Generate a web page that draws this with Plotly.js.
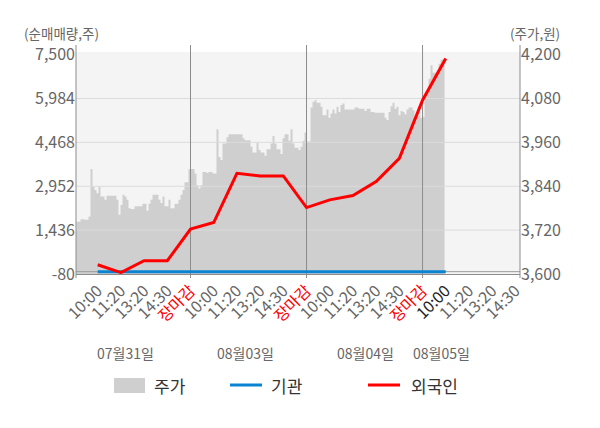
<!DOCTYPE html>
<html>
<head>
<meta charset="utf-8">
<script src="https://cdn.plot.ly/plotly-3.0.1.min.js"></script>
<style>
  html, body { margin: 0; padding: 0; background: #ffffff; }
  #chart { width: 600px; height: 428px; }
</style>
</head>
<body>
<div id="chart"></div>
<script>
// ---- data ----
const xTickLabels = ['10:00','11:20','13:20','14:30','장마감',
                     '10:00','11:20','13:20','14:30','장마감',
                     '10:00','11:20','13:20','14:30','장마감',
                     '10:00','11:20','13:20','14:30'];
const dateLabels = ['07월31일','08월03일','08월04일','08월05일'];

// 외국인 / 기관 net buying (shares) at the tick slots 1..16
const foreignNet = [240, -30, 378, 378, 1471, 1698, 3400, 3307, 3307, 2215, 2480, 2629, 3111, 3917, 5926, 7363];
const instNet    = [0, 0, 0, 0, 0, 0, 0, 0, 0, 0, 0, 0, 0, 0, 0, 0];

// 주가 (won), intraday samples per day
const priceDay1 = [3716,3743,3743,3750,3750,3748,3748,3757,3887,3839,
                   3830,3821,3839,3812,3812,3803,3814,3814,3814,3814,
                   3814,3803,3762,3789,3817,3812,3803,3780,3778,3778,
                   3785,3785,3785,3785,3792,3792,3773,3792,3803,3817,
                   3817,3817,3803,3794,3812,3785,3785,3803,3780,3780,
                   3792,3792,3803,3817,3830,3851,3851,3887];
const priceDay2 = [3887,3887,3875,3843,3834,3843,3879,3879,3876,3879,
                   3879,3875,3875,3996,3920,3912,3957,3957,3974,3982,
                   3982,3982,3982,3982,3982,3982,3971,3966,3966,3966,
                   3948,3932,3932,3959,3939,3932,3932,3923,3941,3941,
                   3957,3977,3957,3941,3941,3928,3971,3982,3982,3964,
                   3996,3957,3945,3945,3939,3948,3964,3987,3939];
const priceDay3 = [3962,3962,4055,4071,4075,4068,4068,4057,4034,4034,
                   4050,4027,4039,4050,4039,4057,4043,4062,4066,4050,
                   4050,4050,4050,4050,4055,4055,4052,4052,4052,4046,
                   4052,4052,4043,4043,4041,4041,4041,4041,4041,4027,
                   4021,4043,4059,4068,4052,4057,4034,4046,4043,4037,
                   4050,4055,4055,4048,4030,4039,4034,4027];
const priceDay4 = [4030,4094,4094,4134,4171,4150,4150,4157,4175,4186,4187,4166];

const netTickVals   = [-80, 1436, 2952, 4468, 5984, 7500];
const netTickText   = ['-80','1,436','2,952','4,468','5,984','7,500'];
const priceTickVals = [3600, 3720, 3840, 3960, 4080, 4200];
const priceTickText = ['3,600','3,720','3,840','3,960','4,080','4,200'];

// ---- build ----
const SLOTS_PER_DAY = 5;
const STEP = 2 / 23.2;          // one sample per ~2px of axis
const X_RANGE = [0.065, 19.2];
const NET_RANGE = [-80, 7590];
const PRICE_RANGE = [3600, 4207];

const priceX = [], priceY = [];
[priceDay1, priceDay2, priceDay3, priceDay4].forEach((arr, d) => {
  arr.forEach((v, i) => { priceX.push(d * SLOTS_PER_DAY + i * STEP); priceY.push(v); });
});

const netX = foreignNet.map((_, i) => i + 1);
const tickVals = xTickLabels.map((_, i) => i + 1);
const tickText = xTickLabels.map((t, i) => {
  if (t === '장마감') return '<span style="color:#ff0000">' + t + '</span>';
  if (i === 15) return '<span style="color:#222222">' + t + '</span>';
  return t;
});
const dayBounds = [5, 10, 15];

const gx = [], gy = [];
netTickVals.slice(1, -1).forEach(v => { gx.push(X_RANGE[0], X_RANGE[1], null); gy.push(v, v, null); });
const vx = [], vy = [];
dayBounds.forEach(b => { vx.push(b, b, null); vy.push(NET_RANGE[0], NET_RANGE[1], null); });

const FONT = 'Noto Sans CJK KR, Noto Sans, sans-serif';

// price on 'y' (drawn first, underneath); net values on 'y2' (overlay, drawn on top)
const traces = [
  { x: priceX, y: priceY, yaxis: 'y', type: 'scatter', mode: 'lines',
    line: { shape: 'hv', width: 0, color: '#cfcfcf' }, fill: 'tozeroy', fillcolor: '#cfcfcf',
    hoverinfo: 'skip', showlegend: false },
  { x: gx, y: gy, yaxis: 'y2', type: 'scatter', mode: 'lines', line: { color: '#dcdcdc', width: 1 },
    hoverinfo: 'skip', showlegend: false },
  { x: [X_RANGE[0], X_RANGE[1]], y: [0, 0], yaxis: 'y2', type: 'scatter', mode: 'lines',
    line: { color: '#9a9a9a', width: 1 }, hoverinfo: 'skip', showlegend: false },
  { x: vx, y: vy, yaxis: 'y2', type: 'scatter', mode: 'lines', line: { color: '#8c8c8c', width: 1 },
    hoverinfo: 'skip', showlegend: false },
  { x: netX, y: instNet, yaxis: 'y2', type: 'scatter', mode: 'lines', name: '기관',
    line: { color: '#0a84d2', width: 3 }, showlegend: false },
  { x: netX, y: foreignNet, yaxis: 'y2', type: 'scatter', mode: 'lines', name: '외국인',
    line: { color: '#ff0000', width: 3 }, showlegend: false }
];

const toPx = (py) => (274 - py) / 222;   // pixel y -> paper y
const toPxX = (px) => (px - 76) / 444;   // pixel x -> paper x

const shapes = [];
[0, 1].forEach(xp => shapes.push({ type: 'line', xref: 'paper', yref: 'paper', x0: xp, x1: xp,
  y0: toPx(278), y1: toPx(45), line: { color: '#8c8c8c', width: 1 } }));
dayBounds.forEach(b => {
  shapes.push({ type: 'line', xref: 'x', yref: 'paper', x0: b, x1: b, y0: toPx(278), y1: 0,
    line: { color: '#8c8c8c', width: 1 } });
  shapes.push({ type: 'line', xref: 'x', yref: 'paper', x0: b, x1: b, y0: 1, y1: toPx(45),
    line: { color: '#8c8c8c', width: 1 } });
});
shapes.push({ type: 'rect', xref: 'paper', yref: 'paper', x0: toPxX(114), x1: toPxX(145),
  y0: toPx(393), y1: toPx(378), fillcolor: '#cfcfcf', line: { width: 0 } });
shapes.push({ type: 'line', xref: 'paper', yref: 'paper', x0: toPxX(230), x1: toPxX(262),
  y0: toPx(385), y1: toPx(385), line: { color: '#0a84d2', width: 3 } });
shapes.push({ type: 'line', xref: 'paper', yref: 'paper', x0: toPxX(368), x1: toPxX(400),
  y0: toPx(385), y1: toPx(385), line: { color: '#ff0000', width: 3 } });

const dateX = [125, 245, 365, 441];
const annotations = [
  { text: '(순매매량,주)', xref: 'paper', yref: 'paper', x: toPxX(61), y: toPx(33),
    xanchor: 'center', yanchor: 'middle', showarrow: false, font: { size: 13.5, color: '#666', family: FONT } },
  { text: '(주가,원)', xref: 'paper', yref: 'paper', x: toPxX(535), y: toPx(33),
    xanchor: 'center', yanchor: 'middle', showarrow: false, font: { size: 13.5, color: '#666', family: FONT } },
  { text: '주가', xref: 'paper', yref: 'paper', x: toPxX(152), y: toPx(385),
    xanchor: 'left', yanchor: 'middle', showarrow: false, font: { size: 17, color: '#333', family: FONT } },
  { text: '기관', xref: 'paper', yref: 'paper', x: toPxX(269), y: toPx(385),
    xanchor: 'left', yanchor: 'middle', showarrow: false, font: { size: 17, color: '#333', family: FONT } },
  { text: '외국인', xref: 'paper', yref: 'paper', x: toPxX(409), y: toPx(385),
    xanchor: 'left', yanchor: 'middle', showarrow: false, font: { size: 17, color: '#333', family: FONT } }
];
dateLabels.forEach((t, i) => annotations.push({ text: t, xref: 'paper', yref: 'paper',
  x: toPxX(dateX[i]), y: toPx(353), xanchor: 'center', yanchor: 'middle', showarrow: false,
  font: { size: 14, color: '#666', family: FONT } }));

const layout = {
  width: 600, height: 428,
  margin: { l: 76, r: 80, t: 52, b: 154, pad: 0 },
  paper_bgcolor: '#ffffff', plot_bgcolor: '#f4f4f4',
  font: { family: FONT, size: 14, color: '#666' },
  showlegend: false,
  xaxis: { type: 'linear', range: X_RANGE, tickmode: 'array', tickvals: tickVals, ticktext: tickText,
    tickangle: -45, ticks: '', showgrid: false, zeroline: false, showline: true,
    linecolor: '#8c8c8c', linewidth: 1, tickfont: { size: 16, color: '#666', family: FONT } },
  yaxis: { range: PRICE_RANGE, side: 'right', tickmode: 'array',
    tickvals: priceTickVals, ticktext: priceTickText, showgrid: false, zeroline: false,
    showline: false, ticks: '', tickfont: { size: 16, color: '#666', family: FONT } },
  yaxis2: { range: NET_RANGE, overlaying: 'y', side: 'left', tickmode: 'array',
    tickvals: netTickVals, ticktext: netTickText,
    showgrid: false, zeroline: false, showline: false, ticks: '',
    tickfont: { size: 16, color: '#666', family: FONT } },
  shapes: shapes,
  annotations: annotations
};

Plotly.newPlot('chart', traces, layout, { staticPlot: true, displayModeBar: false });
</script>
</body>
</html>
